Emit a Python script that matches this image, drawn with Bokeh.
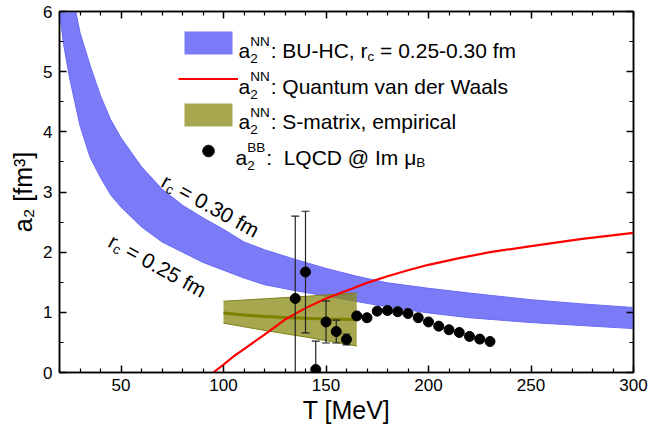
import math
from bokeh.plotting import figure
from bokeh.models import (LinearAxis, FixedTicker, Label, Legend, LegendItem, Range1d,
                          ColumnDataSource)
from bokeh.embed import file_html
from bokeh.resources import INLINE

# ---------------- data ----------------
T_bu = [20, 22, 25, 30, 35, 40, 45, 50, 60, 70, 80, 90, 100, 110, 120, 135, 150, 165,
        180, 200, 220, 250, 275, 300]
a_bu_rc025 = [6.0, 5.45, 4.88, 4.1, 3.57, 3.24, 2.95, 2.75, 2.42, 2.17, 2.0, 1.83, 1.70,
              1.57, 1.46, 1.36, 1.27, 1.18, 1.09, 0.99, 0.91, 0.83, 0.78, 0.73]
a_bu_rc030 = [7.8, 7.2, 6.5, 5.65, 5.1, 4.6, 4.2, 3.9, 3.42, 3.05, 2.78, 2.57, 2.38,
              2.17, 2.04, 1.88, 1.73, 1.60, 1.49, 1.40, 1.32, 1.21, 1.14, 1.08]

T_qvdw = [95, 100, 105, 110, 120, 130, 140, 150, 160, 170, 180, 190, 200, 215, 230,
          250, 275, 300]
a_qvdw = [0.0, 0.13, 0.27, 0.39, 0.63, 0.88, 1.07, 1.23, 1.36, 1.49, 1.60, 1.70, 1.79,
          1.90, 2.00, 2.10, 2.22, 2.32]

T_smat = [100, 110, 120, 130, 140, 150, 165]
a_smat_low = [0.82, 0.76, 0.70, 0.645, 0.59, 0.53, 0.44]
a_smat_up = [1.185, 1.205, 1.225, 1.245, 1.265, 1.29, 1.32]
a_smat_mid = [0.99, 0.955, 0.93, 0.915, 0.90, 0.89, 0.88]

T_lqcd = [135, 140, 145, 150, 155, 160, 165, 170, 175, 180, 185, 190, 195, 200, 205,
          210, 215, 220, 225, 230]
a_lqcd = [1.23, 1.67, 0.05, 0.84, 0.68, 0.55, 0.94, 0.91, 1.02, 1.03, 1.01, 0.98, 0.91,
          0.84, 0.77, 0.71, 0.665, 0.60, 0.555, 0.515]
err_lqcd = [1.37, 1.01, 0.47, 0.35, 0.19, 0.09, 0, 0, 0, 0, 0, 0, 0, 0, 0, 0, 0, 0, 0, 0]

x_ticks = [50, 100, 150, 200, 250, 300]
x_minor = [t for t in range(20, 301, 10) if t % 50]
y_ticks = [0, 1, 2, 3, 4, 5, 6]
y_minor = [0.5, 1.5, 2.5, 3.5, 4.5, 5.5]

FONT = "Liberation Sans"
NB = "\u00a0"

# ---------------- figure ----------------
p = figure(width=649, height=432, x_range=Range1d(20, 300), y_range=Range1d(0, 6),
           output_backend="svg", toolbar_location=None,
           min_border_left=59, min_border_right=16, min_border_top=11, min_border_bottom=60)
p.grid.visible = False
p.outline_line_color = "black"
p.outline_line_width = 1.5
p.background_fill_color = "white"
p.border_fill_color = "white"


def style_axis(ax, show_labels):
    ax.axis_line_width = 1.5
    ax.major_tick_line_width = 1.5
    ax.minor_tick_line_width = 1.2
    ax.major_tick_in = 7
    ax.major_tick_out = 0
    ax.minor_tick_in = 4
    ax.minor_tick_out = 0
    if show_labels:
        ax.major_label_text_font = FONT
        ax.major_label_text_font_size = "17px"
        ax.major_label_text_color = "black"
    else:
        ax.major_label_text_font_size = "0px"
        ax.major_label_standoff = 0
        ax.major_label_text_color = None


xt = FixedTicker(ticks=x_ticks, minor_ticks=x_minor)
yt = FixedTicker(ticks=y_ticks, minor_ticks=y_minor)

xa = p.xaxis[0]
xa.ticker = xt
style_axis(xa, True)
xa.major_label_standoff = 6
xa.axis_label = "T [MeV]"
xa.axis_label_text_font = FONT
xa.axis_label_text_font_size = "25px"
xa.axis_label_text_font_style = "normal"
xa.axis_label_text_color = "black"
xa.axis_label_standoff = 2

ya = p.yaxis[0]
ya.ticker = yt
style_axis(ya, True)
ya.major_label_standoff = 7
ya.axis_label = "a\u2082 [fm\u00b3]"
ya.axis_label_text_font = FONT
ya.axis_label_text_font_size = "25px"
ya.axis_label_text_font_style = "normal"
ya.axis_label_text_color = "black"
ya.axis_label_standoff = 3

top_ax = LinearAxis(ticker=FixedTicker(ticks=x_ticks, minor_ticks=x_minor))
style_axis(top_ax, False)
p.add_layout(top_ax, "above")
right_ax = LinearAxis(ticker=FixedTicker(ticks=y_ticks, minor_ticks=y_minor))
style_axis(right_ax, False)
p.add_layout(right_ax, "right")

# ---------------- renderers ----------------
BLUE = "#7b7bf8"
r_bu = p.varea(x=T_bu, y1=a_bu_rc025, y2=a_bu_rc030, fill_color=BLUE, fill_alpha=1.0)
p.line(T_bu, a_bu_rc025, line_color="#6a6af4", line_width=1)
p.line(T_bu, a_bu_rc030, line_color="#6a6af4", line_width=1)

r_sm = p.varea(x=T_smat, y1=a_smat_low, y2=a_smat_up, fill_color="#8a8a14", fill_alpha=0.75)
p.line(T_smat, a_smat_low, line_color="#80801a", line_width=1)
p.line(T_smat, a_smat_up, line_color="#80801a", line_width=1)
p.line(T_smat, a_smat_mid, line_color="#7f7f00", line_width=3)

r_q = p.line(T_qvdw, a_qvdw, line_color="#ff0000", line_width=2.2)

eb = dict(x=[], lo=[], hi=[])
for t, a, e in zip(T_lqcd, a_lqcd, err_lqcd):
    if e > 0:
        eb["x"].append(t)
        eb["lo"].append(a - e)
        eb["hi"].append(a + e)
esrc = ColumnDataSource(eb)
p.segment(x0="x", y0="lo", x1="x", y1="hi", source=esrc, line_color="#222222", line_width=1.2)
p.scatter(x="x", y="hi", source=esrc, marker="dash", size=8, line_color="#222222", line_width=1.2)
p.scatter(x="x", y="lo", source=esrc, marker="dash", size=8, line_color="#222222", line_width=1.2)
r_pts = p.scatter(T_lqcd, a_lqcd, marker="circle", size=10, fill_color="black", line_color="black")

# ---------------- legend ----------------
legend = Legend(items=[LegendItem(label=" ", renderers=[r_bu]),
                       LegendItem(label=" ", renderers=[r_q]),
                       LegendItem(label=" ", renderers=[r_sm]),
                       LegendItem(label=" ", renderers=[r_pts])],
                location=(119, 207), padding=0, margin=0, spacing=7,
                glyph_width=60, glyph_height=29, label_height=29, label_width=1,
                label_standoff=0, label_text_font_size="1px",
                border_line_color=None, background_fill_alpha=0)
p.add_layout(legend)

# pixel -> data helpers (frame: x 59..633, y 11..372 in the reference)
XPX = 574 / 280.0
YPX = 361 / 6.0


def dx(px):
    return 20 + (px - 59) / XPX


def dy(py):
    return (372 - py) / YPX


def txt(px, py, s, size, angle=0.0):
    p.add_layout(Label(x=dx(px), y=dy(py), text=s, text_font=FONT, text_font_size=f"{size}px",
                       text_baseline="alphabetic", text_align="left", angle=angle,
                       text_color="black"))


W = {" ": .278, NB: .278, ":": .278, ",": .278, "-": .333, ".": .278, "=": .584, "@": 1.015,
     "B": .667, "C": .722, "D": .722, "H": .722, "I": .278, "L": .556, "N": .722,
     "Q": .778, "S": .667, "U": .722, "W": .944, "a": .556, "c": .5, "d": .556,
     "e": .556, "f": .278, "i": .222, "l": .222, "m": .833, "n": .556, "p": .556,
     "r": .333, "s": .5, "t": .278, "u": .556, "v": .5, "x": .5, "\u03bc": .576}
for ch in "0123456789":
    W[ch] = .556


def width(s, size):
    return sum(W.get(c, .556) for c in s) * size


F = 21
f = 13.5
rows = [(50.0, "NN", [(": BU-HC, r", False), ("c", True), (NB + "= 0.25-0.30 fm", False)]),
        (85.5, "NN", [(": Quantum van der Waals", False)]),
        (121.0, "NN", [(": S-matrix, empirical", False)]),
        (156.5, "BB", [(":" + NB + NB + "LQCD @ Im \u03bc", False), ("B", True)])]
for i, (base, sup, parts) in enumerate(rows):
    x0 = 238 if i < 3 else 235
    txt(x0, base, "a", F)
    xs = x0 + width("a", F)
    txt(xs, base - 9.5, sup, f)
    txt(xs, base + 8.3, "2", f)
    x = xs + width(sup, f) + 1
    for s, sub in parts:
        if sub:
            txt(x, base + 5.5, s, f)
            x += width(s, f)
        else:
            txt(x, base, s, F)
            x += width(s, F)

# rotated r_c annotations
phi = math.radians(29.0)
d = (math.cos(phi), math.sin(phi))
n = (-math.sin(phi), math.cos(phi))
for sx, sy, rest in [(163, 179, NB + "= 0.30 fm"), (110, 239, NB + "= 0.25 fm")]:
    txt(sx, sy, "r", F, -phi)
    wr = width("r", F)
    cx = sx + d[0] * wr + n[0] * 5.5
    cy = sy + d[1] * wr + n[1] * 5.5
    txt(cx, cy, "c", f, -phi)
    wc = wr + width("c", f)
    txt(sx + d[0] * wc, sy + d[1] * wc, rest, F, -phi)

open("out.html", "w").write(file_html(p, INLINE))
